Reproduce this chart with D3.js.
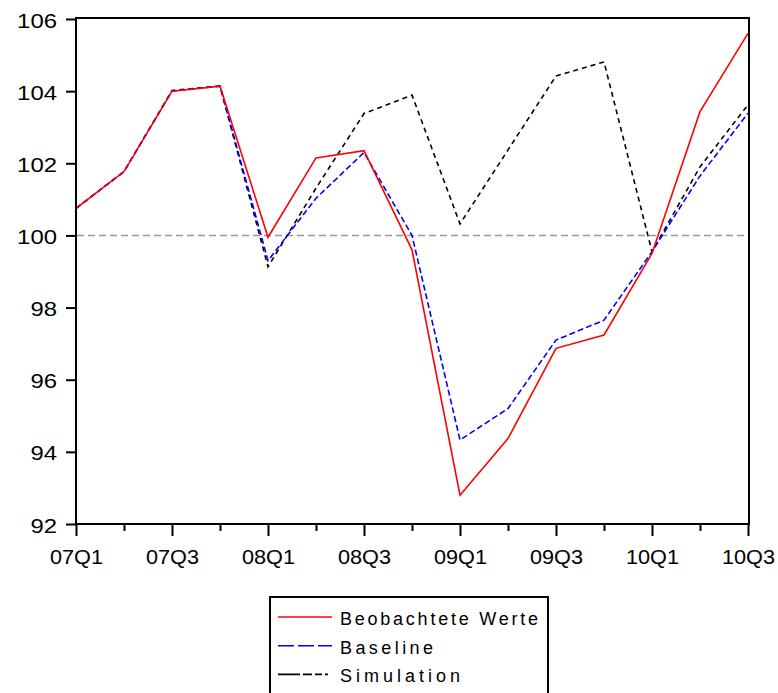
<!DOCTYPE html>
<html>
<head>
<meta charset="utf-8">
<script src="https://cdn.jsdelivr.net/npm/d3@7/dist/d3.min.js"></script>
<style>
  html, body { margin: 0; padding: 0; background: #fff; }
  svg { display: block; }
  text { font-family: "Liberation Sans", Arial, sans-serif; fill: #000; }
</style>
</head>
<body>
<svg id="chart" width="778" height="693"></svg>
<script>
const categories = ["07Q1","07Q2","07Q3","07Q4","08Q1","08Q2","08Q3","08Q4","09Q1","09Q2","09Q3","09Q4","10Q1","10Q2","10Q3"];
const observed   = [100.75, 101.77, 104.0, 104.14, 99.95, 102.15, 102.35, 99.6, 92.8, 94.37, 96.87, 97.24, 99.5, 103.43, 105.6];
const baseline   = [100.75, 101.77, 104.0, 104.14, 99.3, 101.03, 102.3, 100.0, 94.33, 95.2, 97.1, 97.65, 99.55, 101.65, 103.39];
const simulation = [100.75, 101.77, 104.02, 104.14, 99.13, 101.31, 103.38, 103.89, 100.32, 102.37, 104.42, 104.81, 99.55, 101.9, 103.62];
const yTicks = [92, 94, 96, 98, 100, 102, 104, 106];
const xLabels = ["07Q1","07Q3","08Q1","08Q3","09Q1","09Q3","10Q1","10Q3"];
const seriesNames = ["Beobachtete Werte", "Baseline", "Simulation"];
const refValue = 100;

const svg = d3.select("#chart");
const x = d3.scalePoint().domain(categories).range([76, 748]);
const y = d3.scaleLinear().domain([92, 106]).range([524, 19]);

// reference line at 100
svg.append("line")
  .attr("x1", 77).attr("x2", 748)
  .attr("y1", y(refValue)).attr("y2", y(refValue))
  .attr("stroke", "#999").attr("stroke-width", 1.5)
  .attr("stroke-dasharray", "7,4");

const line = d3.line().x((d, i) => x(categories[i])).y(d => y(d));

const styles = [
  {data: observed, color: "#ff0000", dash: null},
  {data: baseline, color: "#0000ff", dash: "6,3"},
  {data: simulation, color: "#000000", dash: "5,4"}
];
// draw order: simulation, baseline, observed on top
[styles[2], styles[1], styles[0]].forEach(s => {
  svg.append("path")
    .datum(s.data)
    .attr("d", line)
    .attr("fill", "none")
    .attr("stroke", s.color)
    .attr("stroke-width", 1.6)
    .attr("stroke-dasharray", s.dash);
});

// frame
svg.append("rect")
  .attr("x", 76).attr("y", 18).attr("width", 673).attr("height", 506)
  .attr("fill", "none").attr("stroke", "#000").attr("stroke-width", 2);

// y axis
const yAxis = svg.append("g").attr("transform", "translate(76,0)")
  .call(d3.axisLeft(y).tickValues(yTicks).tickSize(10).tickPadding(0).tickFormat(d3.format("d")));
yAxis.select(".domain").remove();
yAxis.selectAll(".tick line").attr("stroke", "#000").attr("stroke-width", 2);
yAxis.selectAll(".tick text")
  .attr("x", -19).attr("dy", null).attr("y", 8)
  .style("font-size", "20px")
  .attr("textLength", d => String(d).length * 13.3)
  .attr("lengthAdjust", "spacingAndGlyphs");

// x axis
const xAxis = svg.append("g").attr("transform", "translate(0,524)")
  .call(d3.axisBottom(x).tickSize(12).tickPadding(0)
    .tickFormat(d => xLabels.includes(d) ? d : ""));
xAxis.select(".domain").remove();
xAxis.selectAll(".tick line").attr("stroke", "#000").attr("stroke-width", 2)
  .attr("y2", d => xLabels.includes(d) ? 12 : 7);
xAxis.selectAll(".tick text")
  .attr("y", 40).attr("dy", null)
  .style("font-size", "20px")
  .attr("textLength", 53)
  .attr("lengthAdjust", "spacingAndGlyphs");

// legend
const lg = svg.append("g");
lg.append("rect").attr("x", 270).attr("y", 597).attr("width", 278).attr("height", 110)
  .attr("fill", "#fff").attr("stroke", "#000").attr("stroke-width", 2);
const legendDash = [null, "16,4", "22,3,9,3,7,3,3"];
const legendWidths = [198, 93, 120];
seriesNames.forEach((name, i) => {
  const yy = 617 + i * 28.7;
  lg.append("line").attr("x1", 278).attr("x2", 332).attr("y1", yy).attr("y2", yy)
    .attr("stroke", styles[i].color).attr("stroke-width", 1.6)
    .attr("stroke-dasharray", legendDash[i]);
  lg.append("text").attr("x", 340).attr("y", yy + 8)
    .style("font-size", "18px")
    .attr("textLength", legendWidths[i])
    .attr("lengthAdjust", "spacing")
    .text(name);
});
</script>
</body>
</html>
